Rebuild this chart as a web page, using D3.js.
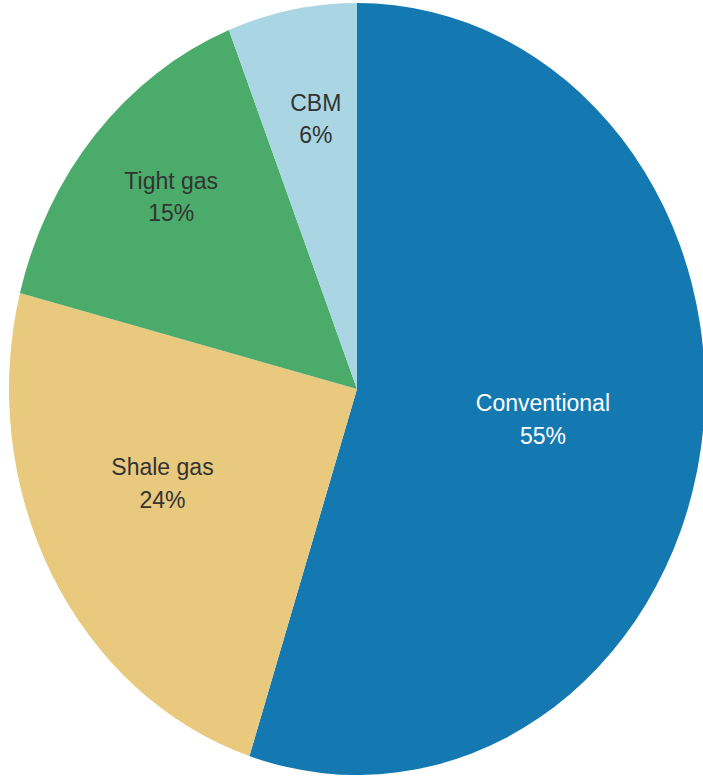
<!DOCTYPE html>
<html>
<head>
<meta charset="utf-8">
<script src="https://cdn.jsdelivr.net/npm/d3@7/dist/d3.min.js"></script>
<style>
  html, body { margin: 0; padding: 0; background: #fff; }
  svg { display: block; }
  text { font-family: "Liberation Sans", Arial, sans-serif; }
</style>
</head>
<body>
<svg id="chart" width="703" height="776"></svg>
<script>
// Natural gas supply by source (share, %)
const categories = ["Conventional", "Shale gas", "Tight gas", "CBM"];
const shares = [55, 24, 15, 6];

// Slice fills and label styling
const colors = ["#1479b1", "#e8c97e", "#4bab6a", "#a9d6e2"];
const labelColors = ["#ffffff", "#333333", "#333333", "#333333"];
// label placement: fraction of radius and small angular nudge (degrees)
const labelRadius = [0.54, 0.61, 0.73, 0.71];
const labelNudge = [-0.6, 5.2, 1.6, 1.2];

const width = 703, height = 776;
const cx = 357, cy = 389, rx = 348, ry = 386;
const R = 100;
const fontSize = 23;

const svg = d3.select("#chart");

const data = categories.map((c, i) => ({ name: c, value: shares[i], i }));

const pie = d3.pie().sort(null).value(d => d.value);
const arcs = pie(data);
const arc = d3.arc().innerRadius(0).outerRadius(R);

const g = svg.append("g")
  .attr("transform", `translate(${cx},${cy}) scale(${rx / R},${ry / R})`);

g.selectAll("path")
  .data(arcs)
  .join("path")
  .attr("d", arc)
  .attr("fill", d => colors[d.data.i]);

const labels = svg.append("g").attr("transform", `translate(${cx},${cy})`);

arcs.forEach(d => {
  const a = (d.startAngle + d.endAngle) / 2 + labelNudge[d.data.i] * Math.PI / 180;
  const k = labelRadius[d.data.i];
  const x = Math.sin(a) * rx * k;
  const y = -Math.cos(a) * ry * k;
  const t = labels.append("text")
    .attr("x", x)
    .attr("y", y)
    .attr("text-anchor", "middle")
    .attr("fill", labelColors[d.data.i])
    .attr("font-size", fontSize);
  t.append("tspan").attr("x", x).attr("dy", "-0.36em").text(d.data.name);
  t.append("tspan").attr("x", x).attr("dy", "1.43em").text(d.data.value + "%");
});
</script>
</body>
</html>
